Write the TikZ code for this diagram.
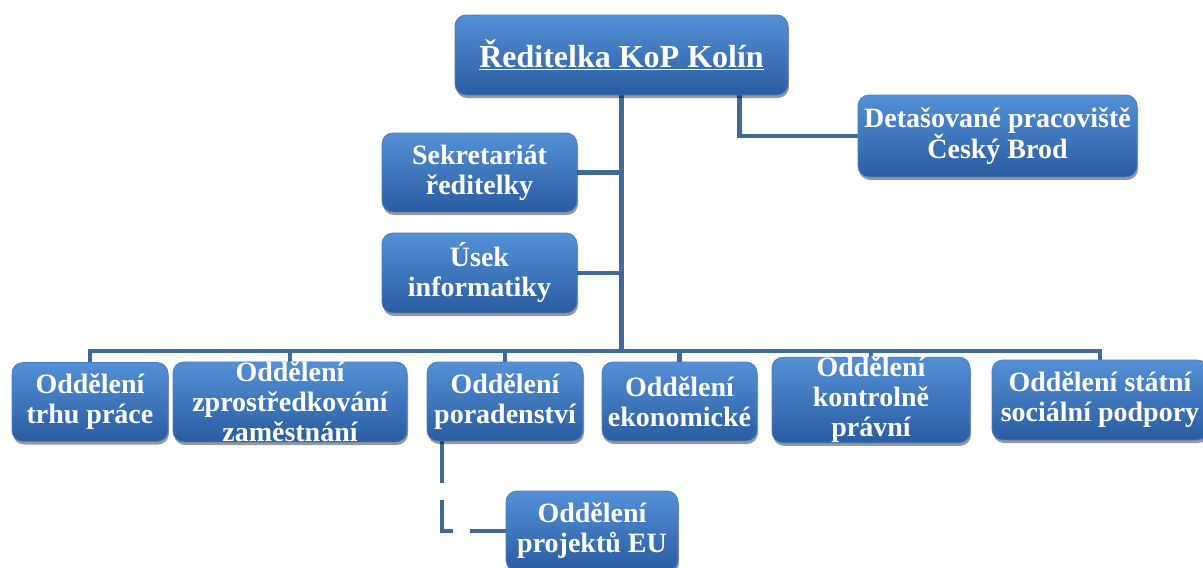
\documentclass[tikz,border=0pt]{standalone}
\usepackage{fontspec}
\setmainfont{Liberation Serif}
\usetikzlibrary{shadows,backgrounds}

\definecolor{boxtop}{RGB}{84,144,214}
\definecolor{boxmid}{RGB}{60,120,196}
\definecolor{boxbot}{RGB}{42,92,160}
\definecolor{boxedge}{RGB}{70,128,196}
\definecolor{linkblue}{RGB}{64,106,152}

\begin{document}
\begin{tikzpicture}[x=1pt,y=-1pt,
  orgbox/.style={rounded corners=11pt, top color=boxtop, middle color=boxmid, bottom color=boxbot,
    draw=boxedge, line width=0.8pt, text=white, align=center, inner sep=0pt,
    font=\fontsize{28}{30}\selectfont\bfseries, minimum height=80pt,
    drop shadow={shadow xshift=1pt, shadow yshift=-3pt, opacity=0.4, fill=black}},
  link/.style={draw=linkblue, line width=4.5pt}]

\useasboundingbox (0,0) rectangle (1203,568);

% Head of office
\node[orgbox, minimum width=333pt, font=\fontsize{32}{36}\selectfont\bfseries] (dir) at (621.5,55)
  {\underline{Ředitelka KoP Kolín}};

% Staff units
\node[orgbox, minimum width=195pt, minimum height=79pt] (sek) at (479.5,172.5) {Sekretariát\\ředitelky};
\node[orgbox, minimum width=195pt] (usek) at (479.5,273) {Úsek\\informatiky};
\node[orgbox, minimum width=279pt, minimum height=82pt] (det) at (997.5,136) {Detašované pracoviště\\Český Brod};

% Departments
\node[orgbox, minimum width=156pt, minimum height=79pt] (trh) at (90,402) {Oddělení\\trhu práce};
\node[orgbox, minimum width=234pt, minimum height=79pt] (zpr) at (290,402) {Oddělení\\zprostředkování\\zaměstnání};
\node[orgbox, minimum width=156pt, minimum height=79pt] (por) at (505,401.5) {Oddělení\\poradenství};
\node[orgbox, minimum width=155pt, minimum height=79pt] (eko) at (679.5,401.5) {Oddělení\\ekonomické};
\node[orgbox, minimum width=198pt] (kon) at (871,400) {Oddělení\\kontrolně\\právní};
\node[orgbox, minimum width=216pt] (ssp) at (1100,400) {Oddělení státní\\sociální podpory};
\node[orgbox, minimum width=172pt] (eu) at (592,531) {Oddělení\\projektů EU};

\coordinate (bus) at (0,351);

% Connectors
\begin{scope}[on background layer]
\draw[link] (dir.south) -- (dir.south |- bus);
\draw[link] ([xshift=118pt]dir.south) |- (det.west);
\draw[link] (sek.east) -- (sek.east -| dir.south);
\draw[link] (usek.east) -- (usek.east -| dir.south);
\draw[link] (trh.north) -- (trh.north |- bus) -- (ssp.north |- bus) -- (ssp.north);
\foreach \d in {zpr,por,eko,kon}{
  \draw[link] (\d.north) -- (\d.north |- bus);
}
\draw[link, dash pattern=on 42pt off 17pt] ([xshift=-63pt]por.south) |- (eu.west);
\end{scope}

\end{tikzpicture}
\end{document}
